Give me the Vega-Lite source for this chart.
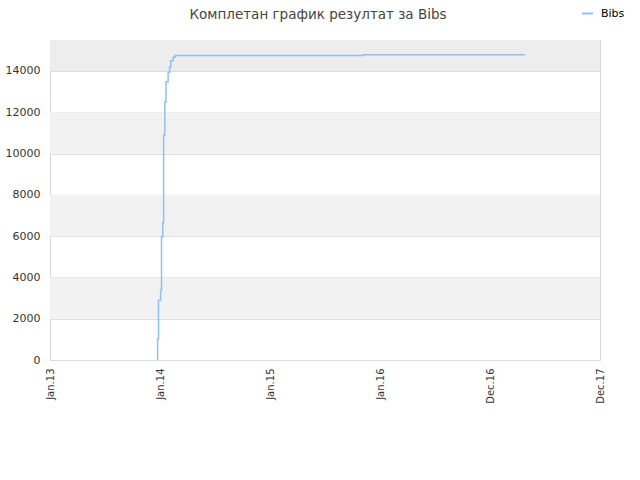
{
  "$schema": "https://vega.github.io/schema/vega-lite/v6.json",
  "autosize": "none",
  "width": 550,
  "height": 320,
  "padding": {"left": 50, "top": 40, "right": 40, "bottom": 120},
  "background": "white",
  "config": {
    "font": "DejaVu Sans",
    "view": {"stroke": "#d6d6d6", "strokeWidth": 1}
  },
  "title": {
    "text": "Комплетан график резултат за Bibs",
    "font": "DejaVu Sans",
    "fontSize": 13.5,
    "fontWeight": "normal",
    "color": "#444444",
    "anchor": "middle",
    "dx": -7,
    "offset": -14
  },
  "datasets": {
    "bands": [
      {"lo": 2000, "hi": 4000},
      {"lo": 6000, "hi": 8000},
      {"lo": 10000, "hi": 12000}
    ],
    "top": [{"lo": 14000, "hi": 15500}],
    "series": [
      {"date": "2013-12-24", "value": 0, "name": "Bibs"},
      {"date": "2013-12-24", "value": 1020, "name": "Bibs"},
      {"date": "2013-12-27", "value": 2900, "name": "Bibs"},
      {"date": "2014-01-03", "value": 3390, "name": "Bibs"},
      {"date": "2014-01-06", "value": 5970, "name": "Bibs"},
      {"date": "2014-01-10", "value": 6650, "name": "Bibs"},
      {"date": "2014-01-13", "value": 10900, "name": "Bibs"},
      {"date": "2014-01-17", "value": 12500, "name": "Bibs"},
      {"date": "2014-01-21", "value": 13480, "name": "Bibs"},
      {"date": "2014-01-28", "value": 13940, "name": "Bibs"},
      {"date": "2014-02-02", "value": 14210, "name": "Bibs"},
      {"date": "2014-02-06", "value": 14500, "name": "Bibs"},
      {"date": "2014-02-14", "value": 14660, "name": "Bibs"},
      {"date": "2014-02-20", "value": 14750, "name": "Bibs"},
      {"date": "2015-11-06", "value": 14790, "name": "Bibs"},
      {"date": "2017-04-26", "value": 14790, "name": "Bibs"}
    ]
  },
  "layer": [
    {
      "data": {"name": "bands"},
      "mark": {"type": "rect", "color": "#f2f2f2"},
      "encoding": {
        "y": {"field": "lo", "type": "quantitative", "scale": {"domain": [0, 15500], "nice": false}},
        "y2": {"field": "hi"}
      }
    },
    {
      "data": {"name": "top"},
      "mark": {"type": "rect", "color": "#ededed"},
      "encoding": {
        "y": {"field": "lo", "type": "quantitative"},
        "y2": {"field": "hi"}
      }
    },
    {
      "data": {"name": "series"},
      "mark": {"type": "line", "interpolate": "step-after", "strokeWidth": 1.5},
      "encoding": {
        "x": {
          "field": "date",
          "type": "temporal",
          "scale": {
            "type": "utc",
            "domain": [
              {"year": 2013, "month": 1, "date": 1, "utc": true},
              {"year": 2017, "month": 12, "date": 31, "utc": true}
            ]
          },
          "axis": {
            "title": null,
            "values": [
              {"year": 2013, "month": 1, "date": 1, "utc": true},
              {"year": 2014, "month": 1, "date": 1, "utc": true},
              {"year": 2015, "month": 1, "date": 1, "utc": true},
              {"year": 2016, "month": 1, "date": 1, "utc": true},
              {"year": 2016, "month": 12, "date": 31, "utc": true},
              {"year": 2017, "month": 12, "date": 31, "utc": true}
            ],
            "format": "%b.%y",
            "labelAngle": -90,
            "labelAlign": "right",
            "labelBaseline": "middle",
            "labelFontSize": 10,
            "labelColor": "#333333",
            "labelPadding": 8,
            "labelOverlap": false,
            "labelFlush": false,
            "grid": false,
            "ticks": false,
            "domain": false
          }
        },
        "y": {
          "field": "value",
          "type": "quantitative",
          "scale": {"domain": [0, 15500], "nice": false},
          "axis": {
            "title": null,
            "values": [0, 2000, 4000, 6000, 8000, 10000, 12000, 14000],
            "format": "d",
            "labelFontSize": 11,
            "labelColor": "#333333",
            "labelPadding": 10,
            "grid": true,
            "gridColor": "#dddddd",
            "ticks": false,
            "domain": false
          }
        },
        "color": {
          "field": "name",
          "type": "nominal",
          "scale": {"range": ["#90c0f0"]},
          "legend": {
            "title": null,
            "orient": "none",
            "legendX": 531,
            "legendY": -33,
            "symbolType": "stroke",
            "symbolSize": 120,
            "symbolStrokeWidth": 2,
            "labelFontSize": 11,
            "labelColor": "#000000",
            "labelOffset": 7
          }
        }
      }
    }
  ]
}
